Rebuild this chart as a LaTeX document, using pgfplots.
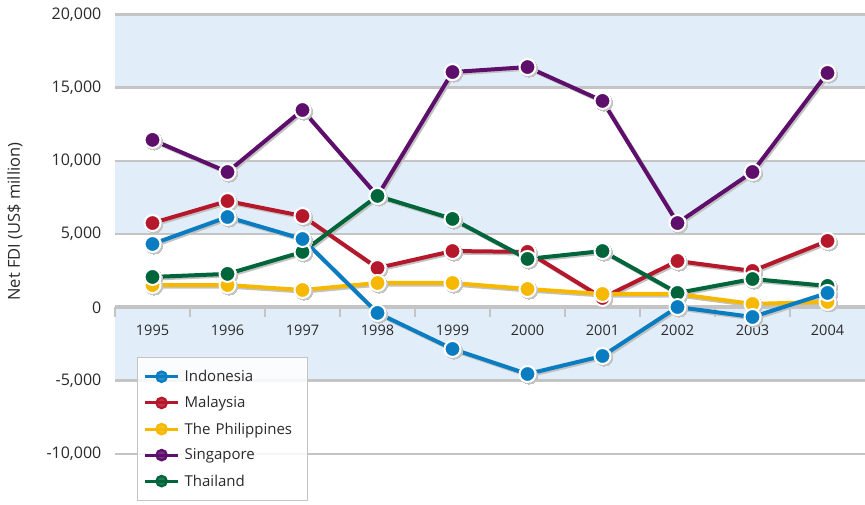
\documentclass[border=0pt]{standalone}
\usepackage{pgfplots}
\pgfplotsset{compat=1.18}
\usepackage{pgfplotstable}
\usepackage{fontspec}
\setmainfont{Open Sans}
\usetikzlibrary{calc}

\definecolor{bandblue}{HTML}{E1EEF9}
\definecolor{gridgray}{HTML}{C4C4C4}
\definecolor{shadowgray}{HTML}{C2C2C2}
\definecolor{textgray}{HTML}{2A2A2A}
\definecolor{indo}{HTML}{0A7DC2}
\definecolor{malay}{HTML}{B5172B}
\definecolor{phil}{HTML}{F6B800}
\definecolor{sing}{HTML}{5D0F6B}
\definecolor{thai}{HTML}{00653A}

\pgfplotstableread{
x indo malay phil sing thai
0 4330 5760 1530 11430 2080
1 6170 7260 1530 9240 2290
2 4670 6240 1190 13470 3790
3 -375 2690 1670 7610 7610
4 -2830 3850 1670 16060 6040
5 -4540 3790 1260 16400 3310
6 -3310 650 920 14090 3850
7 30 3170 920 5760 990
8 -650 2490 240 9240 1940
9 990 4540 380 16000 1470
}\fdi

\pgfplotsset{
  series/.style={color=#1, line width=4pt, mark=*, mark size=8pt,
    mark options={fill=#1, draw=white, line width=2pt}},
  shadow/.style={draw=shadowgray, line width=4pt, xshift=1.6pt, yshift=-1.6pt,
    mark=*, mark size=8.5pt, mark options={fill=shadowgray, draw=shadowgray, line width=0pt}, forget plot},
}

\begin{document}
\begin{tikzpicture}
\begin{axis}[
  set layers,
  scale only axis,
  width=750pt, height=488.7pt,
  xmin=-0.5, xmax=9.5,
  ymin=-13340, ymax=20000,
  axis x line=middle,
  axis y line=left,
  x axis line style={draw=none},
  y axis line style={draw=none},
  xtick={0,...,9},
  xticklabels={1995,1996,1997,1998,1999,2000,2001,2002,2003,2004},
  xticklabel style={font=\fontsize{14.5}{16}\selectfont, text=textgray, yshift=-12pt},
  ytick={-10000,-5000,0,5000,10000,15000,20000},
  yticklabels={-10{,}000,-5{,}000,0,5{,}000,10{,}000,15{,}000,20{,}000},
  yticklabel style={font=\fontsize{16}{18}\selectfont, text=textgray, xshift=-8pt},
  tick style={draw=none},
  ymajorgrids,
  grid style={gridgray, line width=2.6pt},
  clip=false,
  ylabel={Net FDI (US\$ million)},
  every axis y label/.style={at={(rel axis cs:0,0.576)}, rotate=90, anchor=center,
     yshift=100pt, font=\fontsize{16.5}{19}\selectfont, text=textgray},
  legend style={at={(rel axis cs:0.0293,0.2995)}, anchor=north west,
     draw=gridgray, line width=1.3pt, fill=white, fill opacity=0.85, text opacity=1,
     draw opacity=1,
     font=\fontsize{15}{17}\selectfont, text=textgray,
     row sep=9.3pt, inner xsep=6pt, inner ysep=11pt,
     text width=112pt,
     nodes={inner xsep=5pt}},
  legend cell align=left,
  legend image code/.code={
    \draw[#1, mark=none, line width=3pt] (0pt,0pt) -- (33pt,0pt);
    \draw[#1, only marks, mark size=5.2pt, mark options={line width=2.2pt}] plot coordinates {(16.5pt,0pt)};
  },
]
\begin{pgfonlayer}{axis background}
  \fill[bandblue] (axis cs:-0.5,15000) rectangle (axis cs:9.5,20000);
  \fill[bandblue] (axis cs:-0.5,5000) rectangle (axis cs:9.5,10000);
  \fill[bandblue] (axis cs:-0.5,-5000) rectangle (axis cs:9.5,0);
\end{pgfonlayer}
\draw[gridgray, line width=4pt] (axis cs:-0.5,0) -- (axis cs:9.5,0);
\pgfplotsinvokeforeach{-0.5,0.5,1.5,2.5,3.5,4.5,5.5,6.5,7.5,8.5}{
  \draw[gridgray, line width=1.2pt] (axis cs:#1,0) -- ++(0pt,-10pt);
}

\addlegendimage{series=indo}
\addlegendentry{Indonesia}
\addlegendimage{series=malay}
\addlegendentry{Malaysia}
\addlegendimage{series=phil}
\addlegendentry{The Philippines}
\addlegendimage{series=sing}
\addlegendentry{Singapore}
\addlegendimage{series=thai}
\addlegendentry{Thailand}

\addplot[shadow] table[x=x,y=sing] {\fdi};
\addplot[shadow] table[x=x,y=malay] {\fdi};
\addplot[shadow] table[x=x,y=phil] {\fdi};
\addplot[shadow] table[x=x,y=thai] {\fdi};
\addplot[shadow] table[x=x,y=indo] {\fdi};

\addplot[series=sing, forget plot] table[x=x,y=sing] {\fdi};
\addplot[series=malay, forget plot] table[x=x,y=malay] {\fdi};
\addplot[series=phil, forget plot] table[x=x,y=phil] {\fdi};
\addplot[series=thai, forget plot] table[x=x,y=thai] {\fdi};
\addplot[series=indo, forget plot] table[x=x,y=indo] {\fdi};
\end{axis}
\pgfresetboundingbox
\useasboundingbox ($(current axis.south west)+(-115pt,-1pt)$) rectangle ($(current axis.north east)+(0pt,14.3pt)$);
\end{tikzpicture}
\end{document}
